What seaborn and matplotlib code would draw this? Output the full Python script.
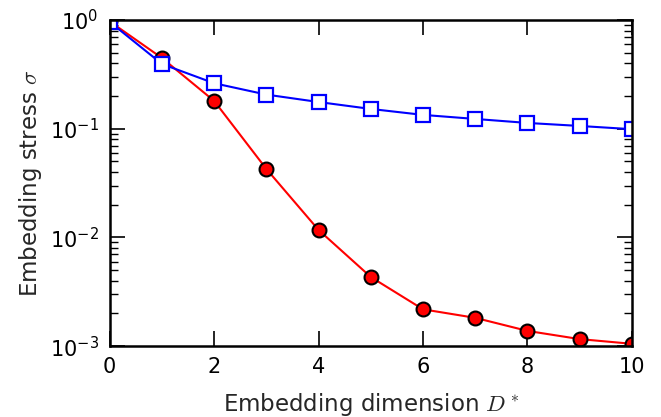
import numpy as np
import pandas as pd
import matplotlib
matplotlib.use("Agg")
import matplotlib.pyplot as plt
import seaborn as sns

# values
dims = [0, 1, 2, 3, 4, 5, 6, 7, 8, 9, 10]
stress_red = [0.97, 0.447, 0.18, 0.0426, 0.0117, 0.00432, 0.00218, 0.00182, 0.00138, 0.00116, 0.00105]
stress_blue = [0.96, 0.394, 0.262, 0.206, 0.176, 0.152, 0.134, 0.123, 0.113, 0.106, 0.099]

sns.set_style("ticks")
plt.rcParams['font.family'] = ['DejaVu Sans']
plt.rcParams['mathtext.fontset'] = 'cm'
plt.rcParams['mathtext.default'] = 'it'

df = pd.DataFrame({"dim": dims, "red": stress_red, "blue": stress_blue})

fig = plt.figure(figsize=(6.61, 4.17), dpi=100)
ax = fig.add_axes([0.166, 0.170, 0.790, 0.782])

sns.lineplot(data=df, x="dim", y="red", ax=ax, color="#ff0000", lw=1.5,
             marker="o", ms=10, mfc="#ff0000", mec="black", mew=1.5)
sns.lineplot(data=df, x="dim", y="blue", ax=ax, color="#0000ff", lw=1.5,
             marker="s", ms=10.5, mfc="white", mec="#0000ff", mew=1.6)

ax.set_yscale("log")
ax.set_xlim(0, 10)
ax.set_ylim(1e-3, 1e0)
ax.set_xticks([0, 2, 4, 6, 8, 10])

ax.set_xlabel(r"Embedding dimension $D^*$", fontsize=16.5, labelpad=10)
ax.set_ylabel(r"Embedding stress $\sigma$", fontsize=16.5, labelpad=4)

ax.tick_params(which="both", direction="in", top=True, right=True, colors="black")
ax.tick_params(which="major", length=10.5, width=1.2, labelsize=15, pad=8)
ax.tick_params(which="minor", length=6, width=1.0)
for s in ax.spines.values():
    s.set_visible(True)
    s.set_linewidth(1.8)
    s.set_color("black")

fig.savefig("out.png", dpi=100)
